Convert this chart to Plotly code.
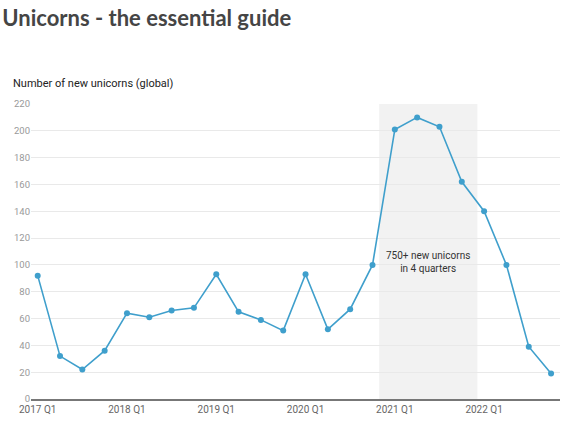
import plotly.graph_objects as go

# quarterly counts, 2017 Q1 .. 2022 Q4
quarters = [f"{y} Q{q}" for y in range(2017, 2023) for q in range(1, 5)]
new_unicorns = [92, 32, 22, 36, 64, 61, 66, 68, 93, 65, 59, 51,
                93, 52, 67, 100, 201, 210, 203, 162, 140, 100, 39, 19]
tick_labels = ["2017 Q1", "2018 Q1", "2019 Q1", "2020 Q1", "2021 Q1", "2022 Q1"]
boom_start, boom_end = "2021 Q1", "2021 Q4"

x = list(range(len(quarters)))
tick_pos = [quarters.index(t) for t in tick_labels]
i0, i1 = quarters.index(boom_start), quarters.index(boom_end)

fig = go.Figure(go.Scatter(
    x=x, y=new_unicorns,
    mode="lines+markers",
    line=dict(color="#3f9fcc", width=1.6),
    marker=dict(color="#3f9fcc", size=6),
    hovertemplate="%{text}: %{y}<extra></extra>",
    text=quarters,
))

# shaded boom period
fig.add_shape(type="rect", xref="x", yref="paper",
              x0=i0 - 0.7, x1=i1 + 0.7, y0=0, y1=1,
              fillcolor="#f2f2f2", line_width=0, layer="below")

fig.add_annotation(x=(i0 + i1) / 2, y=102, xref="x", yref="y",
                   text="750+ new unicorns<br>in 4 quarters", showarrow=False,
                   font=dict(family="Roboto", size=10, color="#333333"))

# axis subtitle above the plot
fig.add_annotation(x=-20 / 529, y=1 + 20 / 295, xref="paper", yref="paper",
                   xanchor="left", yanchor="middle", showarrow=False,
                   text="Number of new unicorns (global)",
                   font=dict(family="Roboto", size=11, color="#222222"))

fig.update_layout(
    width=567, height=421,
    margin=dict(l=31, r=7, t=104, b=22),
    paper_bgcolor="white", plot_bgcolor="white",
    showlegend=False,
    title=dict(text="<b>Unicorns - the essential guide</b>", x=0.004, xanchor="left",
               y=0.957, yanchor="middle",
               font=dict(family="Lato", size=22, color="#454545")),
    font=dict(family="Roboto"),
)

fig.update_xaxes(range=[-0.3, 23.4], tickvals=tick_pos, ticktext=tick_labels,
                 showgrid=False, zeroline=False, showline=True,
                 linecolor="#777777", linewidth=1.5, ticks="",
                 tickfont=dict(size=10, color="#666666"), fixedrange=True)
fig.update_yaxes(range=[0, 220], dtick=20, showgrid=True, gridcolor="#e9e9e9",
                 zeroline=False, ticks="", tickfont=dict(size=9.5, color="#999999"),
                 fixedrange=True)

fig.write_html("out.html", config={"displayModeBar": False},
               post_script="document.body.style.margin='0';")
